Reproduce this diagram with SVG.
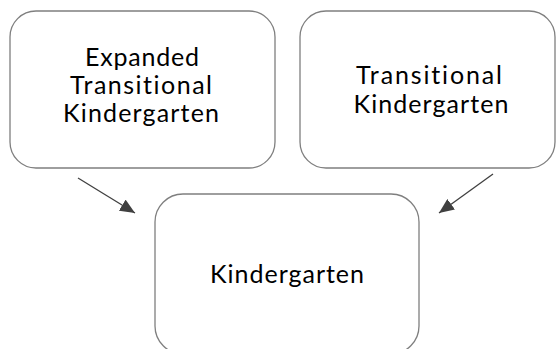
<svg xmlns="http://www.w3.org/2000/svg" width="557" height="349" viewBox="0 0 557 349">
<style>
.box{fill:#fff;stroke:#7f7f7f;stroke-width:1.3}
.t{font-family:Lato,"Open Sans","Liberation Sans",sans-serif;font-size:25px;fill:#000;text-anchor:middle;font-variant-ligatures:none}
.c{stroke:#404040;stroke-width:1.3;fill:none}
</style>
<defs>
<marker id="ah" viewBox="0 0 10 10" refX="10" refY="5" markerWidth="15" markerHeight="13" markerUnits="userSpaceOnUse" orient="auto" preserveAspectRatio="none">
<path d="M0,0 L10,5 L0,10 Z" fill="#404040"/>
</marker>
</defs>
<rect width="557" height="349" fill="#fff"/>
<g id="node-etk">
<rect class="box" x="10" y="11" width="265" height="157" rx="26" ry="26"/>
<text class="t" x="142" y="66" textLength="114">Expanded</text>
<text class="t" x="141" y="94" textLength="142">Transitional</text>
<text class="t" x="141" y="122" textLength="156">Kindergarten</text>
</g>
<g id="node-tk">
<rect class="box" x="300" y="11" width="255" height="157" rx="26" ry="26"/>
<text class="t" x="429" y="84" textLength="146">Transitional</text>
<text class="t" x="431" y="113" textLength="155">Kindergarten</text>
</g>
<g id="node-k">
<rect class="box" x="155" y="194" width="264" height="160" rx="28" ry="28"/>
<text class="t" x="287" y="283" textLength="154">Kindergarten</text>
</g>
<g id="connectors">
<line class="c" x1="78" y1="178" x2="135" y2="213" marker-end="url(#ah)"/>
<line class="c" x1="493" y1="174" x2="439" y2="213" marker-end="url(#ah)"/>
</g>
</svg>
